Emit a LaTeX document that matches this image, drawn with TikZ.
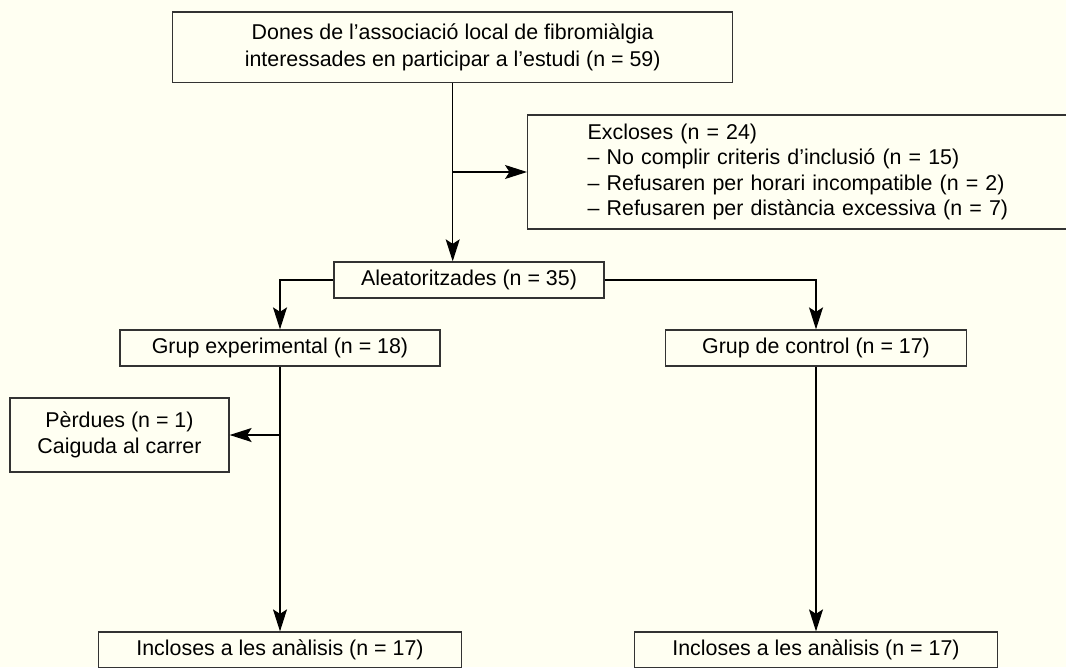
\documentclass[tikz,border=0pt]{standalone}
\usepackage{fontspec}
\setmainfont{Liberation Sans}
\usepackage{tikz}
\usetikzlibrary{arrows.meta,calc,positioning}
\definecolor{crema}{RGB}{255,255,242}
\definecolor{grisFosc}{RGB}{51,51,51}
\tikzstyle{caixa} =[rectangle, draw=grisFosc, line width=1.3pt,
                    inner sep=0pt, minimum height=36pt, align=center,
                    font=\fontsize{21.4}{25.5}\selectfont]
\tikzstyle{fletxa}=[-{Stealth[length=22pt,width=14pt,inset=4.5pt]},
                    line width=1.3pt, draw=black]

\begin{document}
\begin{tikzpicture}[x=1pt,y=-1pt]

        \fill[crema] (0,0) rectangle (1066,667);
        \useasboundingbox (0,0) rectangle (1066,667);

        \begin{scope}[]
            \draw (452.7,47.3) node (dones) [caixa,minimum width=560pt,minimum height=70.7pt,font=\fontsize{21.4}{27.5}\selectfont] {Dones de l’associació local de fibromiàlgia\\interessades en participar a l’estudi (n = 59)};
            \draw (527,172) node (excl) [caixa,anchor=west,minimum height=114pt,text width=500pt,inner xsep=60pt,align=left] {Excloses (n = 24)\\– No complir criteris d’inclusió (n = 15)\\– Refusaren per horari incompatible (n = 2)\\– Refusaren per distància excessiva (n = 7)};
            \draw (469,280) node (aleat) [caixa,minimum width=270pt] {Aleatoritzades (n = 35)};
            \draw (280,348) node (exper) [caixa,minimum width=320pt] {Grup experimental (n = 18)};
            \draw (816,348) node (control) [caixa,minimum width=301pt] {Grup de control (n = 17)};
            \draw (119.5,435) node (perd) [caixa,minimum width=219pt,minimum height=74pt] {Pèrdues (n = 1)\\Caiguda al carrer};
            \draw (280,650) node (inclA) [caixa,minimum width=363pt] {Incloses a les anàlisis (n = 17)};
            \draw (816,650) node (inclB) [caixa,minimum width=363pt] {Incloses a les anàlisis (n = 17)};
        \end{scope}

        \begin{scope}[]
            \draw [fletxa] (dones.south) -- (dones.south |- aleat.north);
            \draw [fletxa] (dones.south |- excl.west) -- (excl.west);
            \draw [fletxa] (aleat.west) -| (exper.north);
            \draw [fletxa] (aleat.east) -| (control.north);
            \draw [fletxa] (exper.south |- perd.east) -- (perd.east);

            \foreach \i/\j in{exper/inclA,control/inclB}
                \draw [fletxa] (\i) to (\j);
        \end{scope}

\end{tikzpicture}
\end{document}
